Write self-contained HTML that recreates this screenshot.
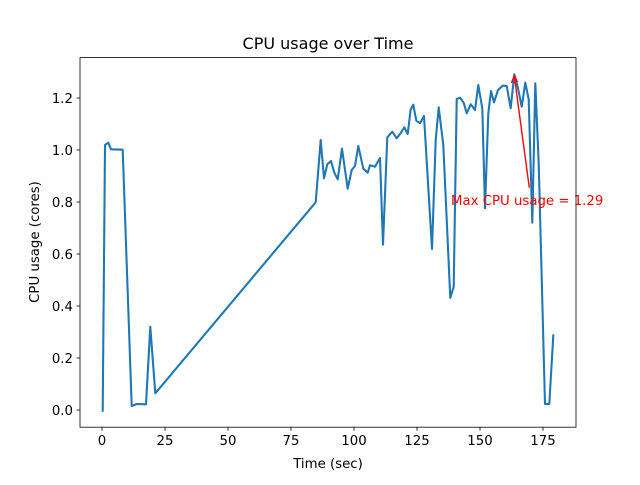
<!DOCTYPE html>
<html><head><style>body{margin:0;background:#fff}</style></head><body>
<svg width="640" height="480" xmlns="http://www.w3.org/2000/svg" font-family="DejaVu Sans, sans-serif">
<rect width="640" height="480" fill="#fff"/>
<polyline fill="none" stroke="#1f77b4" stroke-width="2.08" stroke-linejoin="round" stroke-linecap="square" points="102.7,410.7 105,145 108.3,142.7 111,149.3 122.7,149.7 131.7,406 136.7,404 146,404.3 150.3,326.7 155.3,393.3 315.7,202.3 320.7,140 324,178.3 327.3,164.3 331,161 334.3,172.7 337.7,179.3 342,148.7 347.7,188.7 351.7,170 355,166 358.3,146 363.3,168.7 367.7,172.7 370,165.3 375,166.7 380,158 383,244.7 387.3,137.3 392.3,131.7 396.7,138.3 401,132.7 404.3,127.3 407.7,134 410.7,109.3 413.3,104.7 416.3,120.7 420,123.3 424,116 432,249 435.7,140 438.7,107.3 443.3,145 450.3,298 453.7,286.7 456.7,99 460,97.7 463.7,102.7 466.7,113.3 470.7,104.3 475,110 478.3,85 482.3,108.3 485,208.3 488.3,113.3 491,91 494,102.3 498,90 502.7,85.7 506.7,86 510.7,108.3 514.3,74.3 517.7,86.7 521.7,106.7 525.3,82.7 528.7,99.3 532.3,222.7 535.3,83.3 538.7,163.3 545,404 549.3,404 553.3,335.3"/>
<line x1="529.3" y1="187.7" x2="514.3" y2="76" stroke="red" stroke-width="1.4"/>
<polyline points="511.5,83 514.3,75.5 517.5,82" fill="none" stroke="red" stroke-width="1.4"/>
<text x="451" y="205" font-size="13.3" fill="red">Max CPU usage = 1.29</text>
<rect x="80" y="57.6" width="496" height="369.6" fill="none" stroke="#000" stroke-width="0.8"/>
<g stroke="#000" stroke-width="0.8">
<line x1="102" y1="427.2" x2="102" y2="430.7"/><line x1="165" y1="427.2" x2="165" y2="430.7"/><line x1="228" y1="427.2" x2="228" y2="430.7"/><line x1="291" y1="427.2" x2="291" y2="430.7"/><line x1="354" y1="427.2" x2="354" y2="430.7"/><line x1="417" y1="427.2" x2="417" y2="430.7"/><line x1="480" y1="427.2" x2="480" y2="430.7"/><line x1="543" y1="427.2" x2="543" y2="430.7"/>
<line x1="76.5" y1="410" x2="80" y2="410"/><line x1="76.5" y1="358" x2="80" y2="358"/><line x1="76.5" y1="306" x2="80" y2="306"/><line x1="76.5" y1="254" x2="80" y2="254"/><line x1="76.5" y1="202" x2="80" y2="202"/><line x1="76.5" y1="150" x2="80" y2="150"/><line x1="76.5" y1="98" x2="80" y2="98"/>
</g>
<g font-size="13.3" fill="#000" text-anchor="middle">
<text x="102" y="445">0</text><text x="165" y="445">25</text><text x="228" y="445">50</text><text x="291" y="445">75</text><text x="354" y="445">100</text><text x="417" y="445">125</text><text x="480" y="445">150</text><text x="543" y="445">175</text>
</g>
<g font-size="13.3" fill="#000" text-anchor="end">
<text x="73" y="415">0.0</text><text x="73" y="363">0.2</text><text x="73" y="311">0.4</text><text x="73" y="259">0.6</text><text x="73" y="207">0.8</text><text x="73" y="155">1.0</text><text x="73" y="103">1.2</text>
</g>
<text x="328" y="468" font-size="13.3" text-anchor="middle">Time (sec)</text>
<text transform="translate(39,242) rotate(-90)" font-size="13.3" text-anchor="middle">CPU usage (cores)</text>
<text x="328" y="49" font-size="16" text-anchor="middle">CPU usage over Time</text>
</svg>
</body></html>
